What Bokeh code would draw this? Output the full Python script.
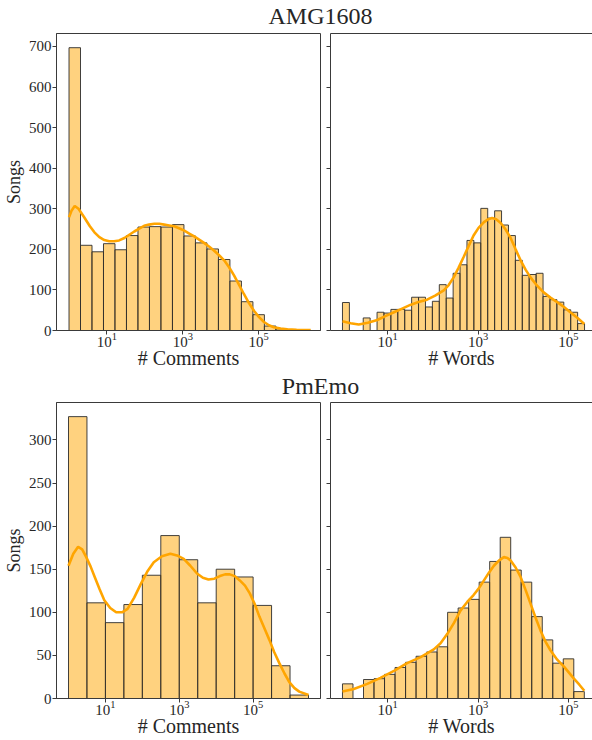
import numpy as np
from bokeh.plotting import figure
from bokeh.models import Range1d, FixedTicker, Label, LogAxis
from bokeh.layouts import column, row
from bokeh.embed import file_html
from bokeh.resources import INLINE

# ---------------- data (log10 bins, counts) ----------------
# AMG1608 - comments
amg_com_start = 0.0
amg_com_width = 0.303
amg_com_counts = [697, 210, 194, 214, 199, 234, 255, 256, 255, 261, 233,
                  216, 201, 175, 122, 71, 39, 11, 4, 2, 1]
amg_com_kde_x = [0.0, 0.07, 0.15, 0.25, 0.40, 0.55, 0.67, 0.80, 0.93, 1.06, 1.19, 1.32,
                 1.46, 1.59, 1.72, 1.85, 1.98, 2.11, 2.25, 2.38, 2.51, 2.64, 2.77, 2.90,
                 3.04, 3.17, 3.30, 3.43, 3.56, 3.69, 3.82, 3.95, 4.09, 4.22, 4.35, 4.48,
                 4.61, 4.74, 4.88, 5.01, 5.14, 5.27, 5.40, 5.58, 5.75, 6.0, 6.37]
amg_com_kde_y = [279, 296, 307, 300, 279, 257, 242, 230, 223, 220, 220, 222,
                 228, 236, 244, 251, 258, 261, 263, 263, 261, 259, 257, 252,
                 246, 239, 232, 224, 216, 207, 197, 186, 173, 156, 136, 113,
                 90, 68, 48, 33, 21, 13, 8, 5, 3, 2, 1]

# AMG1608 - words
amg_wrd_start = 0.0
amg_wrd_width = 0.153
amg_wrd_counts = [69, 0, 0, 31, 0, 45, 43, 52, 52, 50, 82, 82, 58, 72, 113, 80,
                  141, 162, 222, 216, 301, 277, 295, 260, 234, 173, 136, 138, 141,
                  84, 76, 70, 51, 45, 17]
amg_wrd_kde_x = [0.0, 0.18, 0.36, 0.56, 0.77, 0.96, 1.14, 1.32, 1.50, 1.68, 1.87, 2.05,
                 2.24, 2.35, 2.46, 2.57, 2.68, 2.79, 2.90, 3.01, 3.13, 3.22, 3.31, 3.40,
                 3.50, 3.61, 3.72, 3.83, 3.94, 4.05, 4.16, 4.30, 4.45, 4.60, 4.75, 4.90,
                 5.04, 5.20, 5.35]
amg_wrd_kde_y = [23, 18, 15, 19, 26, 36, 45, 54, 63, 70, 76, 86,
                 99, 112, 131, 155, 181, 208, 234, 253, 267, 274, 277, 274,
                 265, 249, 228, 200, 173, 150, 131, 111, 94, 81, 70, 58,
                 45, 31, 16]

# PmEmo - comments
pme_com_start = 0.0
pme_com_width = 0.5
pme_com_counts = [327, 111, 88, 109, 143, 189, 161, 111, 150, 141, 108, 38, 4]
pme_com_kde_x = [0.0, 0.13, 0.26, 0.37, 0.48, 0.60, 0.71, 0.84, 0.97, 1.13, 1.29, 1.45,
                 1.60, 1.78, 1.96, 2.13, 2.31, 2.53, 2.76, 2.94, 3.12, 3.30, 3.48, 3.64,
                 3.79, 3.95, 4.10, 4.24, 4.37, 4.50, 4.64, 4.78, 4.91, 5.04, 5.17, 5.30,
                 5.44, 5.57, 5.71, 5.85, 5.98, 6.12, 6.25, 6.5]
pme_com_kde_y = [154, 168, 176, 173, 164, 153, 141, 127, 114, 105, 100, 100,
                 104, 117, 133, 147, 158, 165, 168, 166, 162, 154, 145, 140,
                 138, 139, 142, 144, 144, 142, 137, 131, 122, 110, 95, 82,
                 68, 54, 41, 29, 19, 12, 8, 4]

# PmEmo - words
pme_wrd_start = 0.0
pme_wrd_width = 0.2326
pme_wrd_counts = [17, 0, 22, 23, 28, 36, 42, 49, 54, 60, 100, 105, 115, 135, 159,
                  187, 149, 135, 95, 68, 41, 46, 8]
pme_wrd_kde_x = [0.0, 0.25, 0.55, 0.84, 1.14, 1.43, 1.73, 2.02, 2.17, 2.32, 2.47, 2.61,
                 2.76, 2.90, 3.02, 3.13, 3.24, 3.35, 3.46, 3.57, 3.65, 3.72, 3.83, 3.94,
                 4.05, 4.16, 4.27, 4.38, 4.49, 4.60, 4.75, 4.90, 5.01, 5.12, 5.24, 5.35]
pme_wrd_kde_y = [8, 11, 17, 24, 32, 41, 48, 57, 64, 75, 88, 102,
                 112, 120, 128, 137, 146, 154, 160, 164, 163, 160, 152, 141,
                 126, 110, 94, 79, 66, 56, 45, 37, 30, 23, 16, 9]

x_ticks = [10, 1000, 100000]
amg_y_ticks = [0, 100, 200, 300, 400, 500, 600, 700]
pme_y_ticks = [0, 50, 100, 150, 200, 250, 300]
row_titles = ["AMG1608", "PmEmo"]

# ---------------- styling ----------------
FONT = "Liberation Serif"
TEXT = "#262626"
SPINE = "#3a3a3a"
BAR_EDGE = "#2e2e2e"
PAGE_W = 592


def panel(counts, start, width, kde_x, kde_y, xlim, ylim, yticks, xlabel,
          left, fig_w, fig_h, top_border, bottom_border):
    n = len(counts)
    edges = start + width * np.arange(n + 1)
    p = figure(x_axis_type="log",
               x_range=Range1d(10 ** xlim[0], 10 ** xlim[1]),
               y_range=Range1d(ylim[0], ylim[1]),
               width=fig_w, height=fig_h,
               output_backend="svg", toolbar_location=None,
               min_border_left=55 if left else 5,
               min_border_right=5 if left else 0,
               min_border_top=top_border, min_border_bottom=bottom_border,
               background_fill_color="white", border_fill_color="white")
    p.grid.visible = False
    p.quad(left=10 ** edges[:-1], right=10 ** edges[1:], bottom=0, top=counts,
           fill_color="orange", fill_alpha=0.5, line_color=BAR_EDGE,
           line_width=1, line_alpha=0.9)
    p.line(10 ** np.array(kde_x), kde_y, line_color="orange", line_width=2.6)

    p.xaxis.ticker = FixedTicker(ticks=x_ticks, minor_ticks=[])
    p.yaxis.ticker = FixedTicker(ticks=yticks, minor_ticks=[])
    for ax in p.axis:
        ax.axis_line_color = SPINE
        ax.axis_line_width = 1
        ax.major_tick_line_color = SPINE
        ax.major_tick_in = 0
        ax.major_tick_out = 4
        ax.minor_tick_in = 0
        ax.minor_tick_out = 0
        ax.major_label_text_font = FONT
        ax.major_label_text_font_size = "15px"
        ax.major_label_text_color = TEXT
        ax.axis_label_text_font = FONT
        ax.axis_label_text_font_style = "normal"
        ax.axis_label_text_color = TEXT
    p.xaxis.axis_label = xlabel
    p.xaxis.axis_label_text_font_size = "20px"
    p.xaxis.major_label_standoff = -2
    p.xaxis.axis_label_standoff = -3
    if left:
        p.yaxis.axis_label = "Songs"
        p.yaxis.axis_label_text_font_size = "18px"
        p.yaxis.major_label_standoff = 1
        p.yaxis.axis_label_standoff = 2
        p.outline_line_color = SPINE
        p.outline_line_width = 1
    else:
        # right-hand panels are cut by the picture's right edge: no right spine
        p.yaxis.major_label_overrides = {t: "" for t in yticks}
        p.yaxis.major_label_standoff = 0
        p.outline_line_color = None
        top_ax = LogAxis(ticker=FixedTicker(ticks=[], minor_ticks=[]),
                         axis_line_color=SPINE, axis_line_width=1,
                         major_tick_out=0, major_tick_in=0,
                         minor_tick_out=0, minor_tick_in=0,
                         major_label_standoff=0)
        p.add_layout(top_ax, "above")
    return p


def title_fig(text, height, center_from_bottom):
    f = figure(width=PAGE_W, height=height, x_range=Range1d(0, PAGE_W),
               y_range=Range1d(0, height), x_axis_location=None,
               y_axis_location=None, output_backend="svg",
               toolbar_location=None, min_border=0,
               background_fill_color="white", border_fill_color="white")
    f.grid.visible = False
    f.outline_line_color = None
    f.add_layout(Label(x=320, y=center_from_bottom, text=text, text_align="center",
                       text_baseline="middle", text_font=FONT,
                       text_font_size="24px", text_color=TEXT))
    return f


tl = panel(amg_com_counts, amg_com_start, amg_com_width, amg_com_kde_x, amg_com_kde_y,
           (-0.33, 6.63), (0, 732), amg_y_ticks, "# Comments", True, 325, 342, 3, 42)
tr = panel(amg_wrd_counts, amg_wrd_start, amg_wrd_width, amg_wrd_kde_x, amg_wrd_kde_y,
           (-0.265, 5.531), (0, 732), amg_y_ticks, "# Words", False, 267, 342, 3, 42)
bl = panel(pme_com_counts, pme_com_start, pme_com_width, pme_com_kde_x, pme_com_kde_y,
           (-0.325, 6.825), (0, 343.4), pme_y_ticks, "# Comments", True, 325, 341, 3, 42)
br = panel(pme_wrd_counts, pme_wrd_start, pme_wrd_width, pme_wrd_kde_x, pme_wrd_kde_y,
           (-0.265, 5.531), (0, 343.4), pme_y_ticks, "# Words", False, 267, 341, 3, 42)

layout = column(title_fig(row_titles[0], 30, 15.0), row(tl, tr),
                title_fig(row_titles[1], 27, 14.0), row(bl, br))

open("out.html", "w").write(file_html(layout, INLINE))
